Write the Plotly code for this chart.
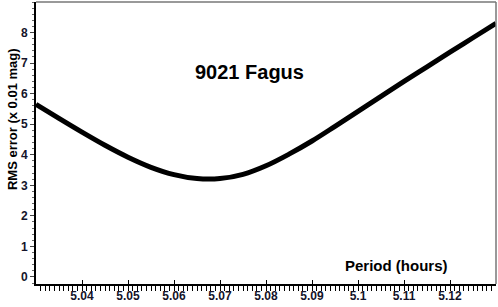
import plotly.graph_objects as go

period_hours = [5.030, 5.035, 5.040, 5.045, 5.050, 5.055, 5.060, 5.065, 5.070, 5.075,
                5.080, 5.085, 5.090, 5.095, 5.100, 5.105, 5.110, 5.115, 5.120, 5.125, 5.130]
rms_error = [5.65, 5.19, 4.74, 4.31, 3.92, 3.59, 3.35, 3.22, 3.22, 3.36,
             3.64, 4.02, 4.45, 4.93, 5.42, 5.91, 6.40, 6.88, 7.36, 7.83, 8.30]

x_ticks = [5.04, 5.05, 5.06, 5.07, 5.08, 5.09, 5.10, 5.11, 5.12]
x_tick_labels = ["5.04", "5.05", "5.06", "5.07", "5.08", "5.09", "5.1", "5.11", "5.12"]
y_ticks = [0, 1, 2, 3, 4, 5, 6, 7, 8]

title_text = "9021 Fagus"
x_title = "Period (hours)"
y_title = "RMS error (x 0.01 mag)"

FONT = "Liberation Sans, Arial, sans-serif"
TICKFONT = dict(family=FONT, size=12, color="#14142a", weight="bold")

fig = go.Figure()
fig.add_trace(go.Scatter(x=period_hours, y=rms_error, mode="lines",
                         line=dict(color="black", width=5, shape="spline", smoothing=1.0),
                         showlegend=False, hoverinfo="skip"))

fig.update_layout(
    width=498, height=307,
    margin=dict(l=36, r=2, t=2, b=23),
    paper_bgcolor="white", plot_bgcolor="white",
    xaxis=dict(range=[5.03, 5.13], tickvals=x_ticks, ticktext=x_tick_labels,
               automargin=False,
               showgrid=False, zeroline=False,
               showline=True, linecolor="black", linewidth=2,
               ticks="inside", ticklen=4, tickwidth=1, tickcolor="black",
               tickfont=TICKFONT,
               minor=dict(dtick=0.001, ticks="outside", ticklen=5, tickwidth=1,
                          tickcolor="black", showgrid=False)),
    yaxis=dict(range=[-0.23, 9.0], tickvals=y_ticks,
               automargin=False,
               showgrid=False, zeroline=False,
               showline=True, linecolor="black", linewidth=2,
               ticks="outside", ticklen=4, tickwidth=1, tickcolor="#444",
               tickfont=TICKFONT,
               minor=dict(dtick=0.2, ticks="outside", ticklen=2, tickwidth=1,
                          tickcolor="#666", showgrid=False)),
    shapes=[
        dict(type="line", xref="paper", yref="paper", x0=0, x1=1, y0=1, y1=1,
             line=dict(color="#777", width=1.5)),
        dict(type="line", xref="paper", yref="paper", x0=1, x1=1, y0=0, y1=1,
             line=dict(color="#777", width=1.5)),
    ],
    annotations=[
        dict(text=title_text, xref="x", yref="paper", x=5.0765, y=0.752,
             xanchor="center", yanchor="middle",
             showarrow=False, font=dict(family=FONT, size=20, color="black", weight="bold")),
        dict(text=x_title, xref="x", yref="paper", x=5.1083, y=0.064,
             xanchor="center", yanchor="middle",
             showarrow=False, font=dict(family=FONT, size=15, color="black", weight="bold")),
        dict(text=y_title, xref="paper", yref="paper", x=0, y=0.585, xshift=-24,
             xanchor="center", yanchor="middle", textangle=-90,
             showarrow=False, font=dict(family=FONT, size=13, color="black", weight="bold")),
    ],
)

fig.write_html("out.html", config={"displayModeBar": False},
               post_script="document.body.style.margin='0px';document.body.style.overflow='hidden';")
